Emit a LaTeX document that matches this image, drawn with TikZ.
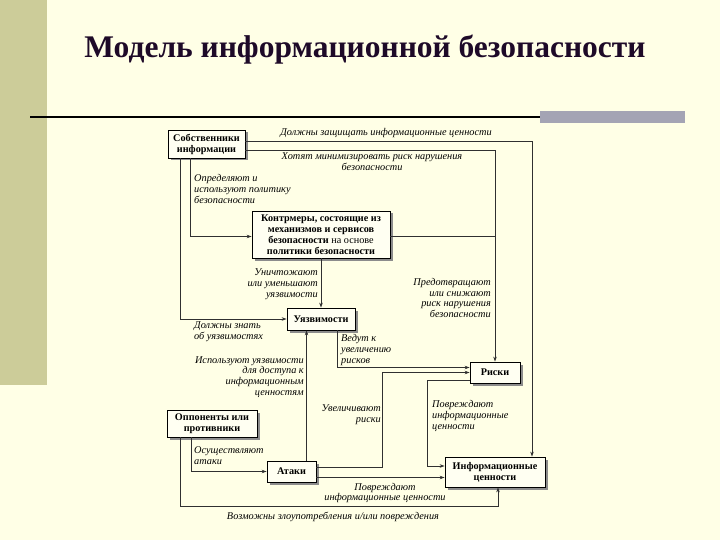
\documentclass[tikz,border=0pt]{standalone}
\usepackage{fontspec}
\setmainfont{Liberation Serif}
\usetikzlibrary{arrows.meta,shadows}
\definecolor{cream}{HTML}{FFFFE6}
\definecolor{strip}{HTML}{CCCC99}
\definecolor{titlecol}{HTML}{1E0A28}
\definecolor{rulegray}{HTML}{A4A4B4}
\definecolor{boxfill}{HTML}{FFFFF2}
\definecolor{shadowgray}{HTML}{8C8C8C}
\definecolor{linecol}{HTML}{303030}
\begin{document}
\begin{tikzpicture}[x=1pt,y=-1pt,
  box/.style={draw, line width=0.8pt, fill=boxfill, align=center, inner sep=1pt,
    font=\bfseries\fontsize{10.2}{11}\selectfont,
    drop shadow={shadow xshift=2.5pt, shadow yshift=-2.5pt, fill=shadowgray, opacity=1}},
  lbl/.style={font=\itshape\fontsize{10.3}{10.8}\selectfont, inner sep=0pt},
  conn/.style={line width=0.65pt, draw=linecol},
  arr/.style={conn, -{Stealth[length=5pt,width=3.5pt]}}]
\useasboundingbox (0,0) rectangle (720,540);
\fill[cream] (0,0) rectangle (720,540);
\fill[strip] (0,0) rectangle (47,385);
% title and rule
\node[text=titlecol, font=\bfseries\fontsize{31.5}{34}\selectfont] (title) at (365,50) {Модель информационной безопасности};
\draw[line width=2pt] (30,117) -- (540,117);
\fill[rulegray] (540,111) rectangle (685,123);
% boxes
\node[box, minimum width=77pt, minimum height=28pt] (owners) at (206.5,144) {Собственники\\информации};
\node[box, minimum width=138pt, minimum height=47pt] (cm) at (321,234.5) {Контрмеры, состоящие из\\механизмов и сервисов\\безопасности \textmd{на основе}\\политики безопасности};
\node[box, minimum width=68pt, minimum height=22pt] (vuln) at (321,319) {Уязвимости};
\node[box, minimum width=50pt, minimum height=21pt] (risks) at (495,372.5) {Риски};
\node[box, minimum width=90pt, minimum height=27pt] (opp) at (212,423.5) {Оппоненты или\\противники};
\node[box, minimum width=49pt, minimum height=21pt] (atk) at (291.5,471.5) {Атаки};
\node[box, minimum width=100pt, minimum height=30pt] (infov) at (495,472) {Информационные\\ценности};
% connectors
\draw[arr] ([yshift=3pt]owners.east) -| ([xshift=37pt]infov.north);
\draw[arr] ([yshift=-6pt]owners.east) -| (risks.north);
\draw[conn] ([yshift=-2pt]cm.east) -- ([yshift=-2pt]cm.east -| risks.north);
\draw[arr] ([xshift=-16pt]owners.south) |- ([yshift=-2pt]cm.west);
\draw[arr] ([xshift=-26pt]owners.south) |- (vuln.west);
\draw[arr] (cm.south) -- (vuln.north);
\draw[arr] ([xshift=16pt]vuln.south) |- ([yshift=5pt]risks.west);
\draw[arr] ([yshift=4pt]atk.east) -| ([xshift=-87pt]risks.west) -- (risks.west);
\draw[arr] ([yshift=-8pt]risks.west) -- ++(-42pt,0) |- ([yshift=6pt]infov.west);
\draw[arr] ([xshift=15pt]atk.north) -- ([xshift=15pt]atk.north |- vuln.south);
\draw[arr] ([xshift=-21pt]opp.south) |- (atk.west);
\draw[arr] ([xshift=-32pt]opp.south) |- ([xshift=3pt,yshift=-19pt]infov.south) -- ([xshift=3pt]infov.south);
\draw[arr] ([yshift=-6pt]atk.east) -- ([yshift=-6pt]atk.east -| infov.west);
% labels
\node[lbl] (l1) at (386,133) {Должны защищать информационные ценности};
\node[lbl, align=center] (l2) at (372,162) {Хотят минимизировать риск нарушения\\безопасности};
\node[lbl, align=left, anchor=west] (l3) at (194,189) {Определяют и\\используют политику\\безопасности};
\node[lbl, align=right, anchor=east] (l4) at (318,284) {Уничтожают\\или уменьшают\\уязвимости};
\node[lbl, align=right, anchor=east] (l5) at (491,298) {Предотвращают\\или снижают\\риск нарушения\\безопасности};
\node[lbl, align=left, anchor=west] (l6) at (194,332) {Должны знать\\об уязвимостях};
\node[lbl, align=left, anchor=west] (l7) at (341,350) {Ведут к\\увеличению\\рисков};
\node[lbl, align=right, anchor=east] (l8) at (304,377) {Используют уязвимости\\для доступа к\\информационным\\ценностям};
\node[lbl, align=right, anchor=east] (l9) at (381,415) {Увеличивают\\риски};
\node[lbl, align=left, anchor=west] (l10) at (432,416) {Повреждают\\информационные\\ценности};
\node[lbl, align=left, anchor=west] (l11) at (194,456) {Осуществляют\\атаки};
\node[lbl, align=center] (l12) at (385,493) {Повреждают\\информационные ценности};
\node[lbl] (l13) at (333,517) {Возможны злоупотребления и/или повреждения};
\end{tikzpicture}
\end{document}
